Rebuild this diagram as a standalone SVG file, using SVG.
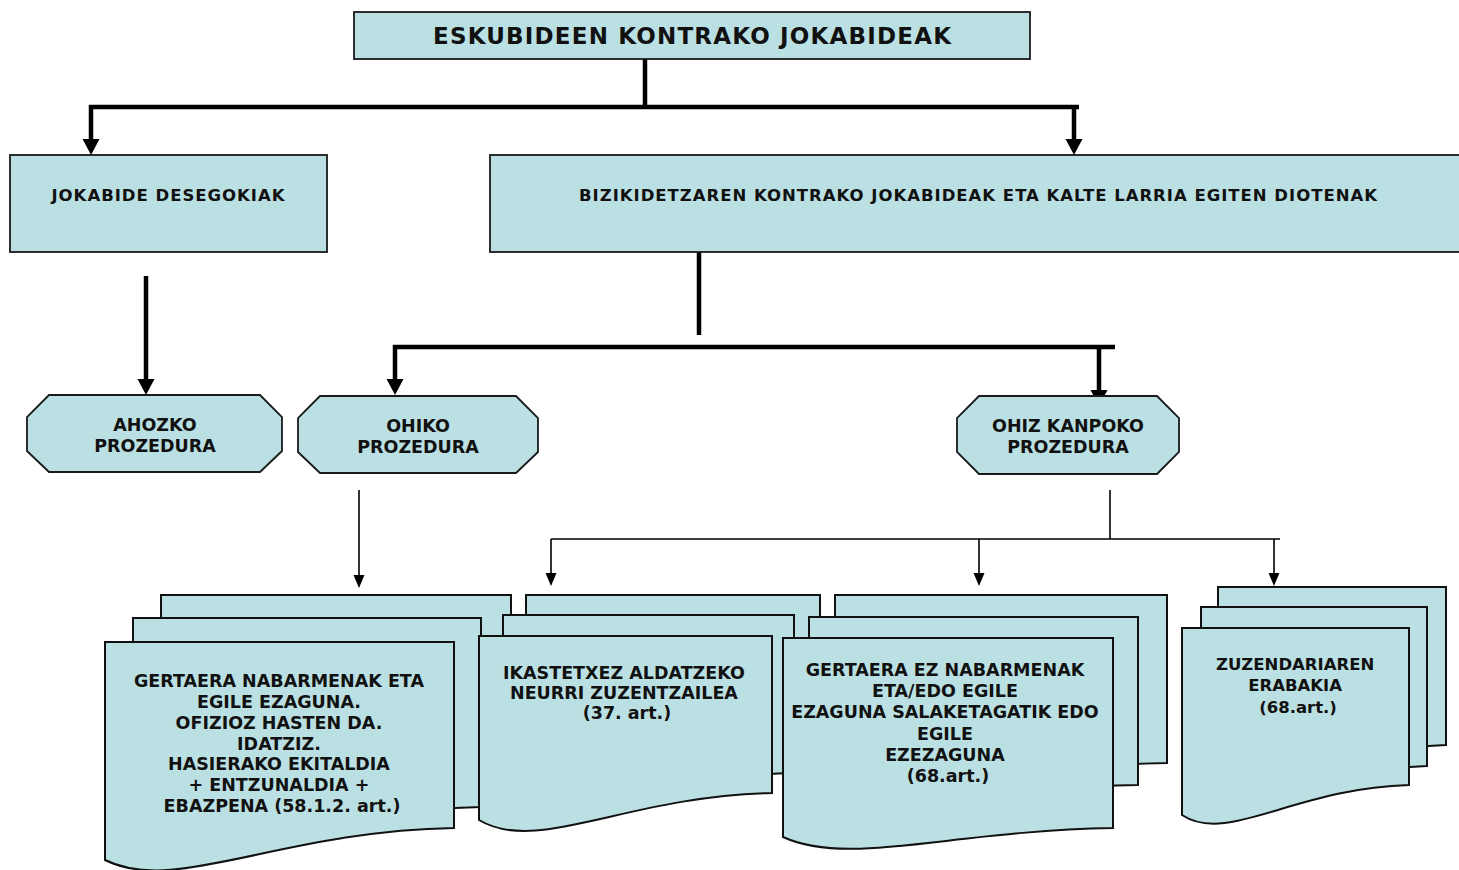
<svg xmlns="http://www.w3.org/2000/svg" width="1459" height="870" viewBox="0 0 1459 870">
<defs>
<style>
.box{fill:#BBE0E3;stroke:#1a1a1a;stroke-width:1.8}
.doc{fill:#BBE0E3;stroke:#111;stroke-width:2}
.t{font-family:"DejaVu Sans","Verdana",sans-serif;font-weight:bold;fill:#111;text-anchor:middle}
.thick{stroke:#000;stroke-width:4.5;fill:none}
.thin{stroke:#000;stroke-width:1.6;fill:none}
</style>
<marker id="ah" markerUnits="userSpaceOnUse" markerWidth="18" markerHeight="18" refX="0" refY="8.5" orient="auto">
<path d="M0,0 L16,8.5 L0,17 z" fill="#000"/>
</marker>
<marker id="ahs" markerUnits="userSpaceOnUse" markerWidth="14" markerHeight="12" refX="0" refY="5.5" orient="auto">
<path d="M0,0 L13,5.5 L0,11 z" fill="#000"/>
</marker>
</defs>
<rect width="1459" height="870" fill="#fff"/>

<g id="connectors">
<line class="thick" x1="645" y1="59" x2="645" y2="107"/>
<line class="thick" x1="89" y1="107" x2="1079" y2="107" stroke-width="5"/>
<line class="thick" x1="91" y1="105" x2="91" y2="139" marker-end="url(#ah)"/>
<line class="thick" x1="1074" y1="105" x2="1074" y2="139" marker-end="url(#ah)"/>
<line class="thick" x1="146" y1="276" x2="146" y2="379" marker-end="url(#ah)"/>
<line class="thick" x1="699" y1="252" x2="699" y2="335"/>
<line class="thick" x1="393" y1="347" x2="1115" y2="347" stroke-width="5"/>
<line class="thick" x1="395" y1="345" x2="395" y2="379" marker-end="url(#ah)"/>
<line class="thick" x1="1099" y1="345" x2="1099" y2="390" marker-end="url(#ah)"/>
<line class="thin" x1="359" y1="490" x2="359" y2="575" marker-end="url(#ahs)"/>
<line class="thin" x1="1110" y1="490" x2="1110" y2="539"/>
<line class="thin" x1="551" y1="539" x2="1280" y2="539"/>
<line class="thin" x1="551" y1="539" x2="551" y2="573" marker-end="url(#ahs)"/>
<line class="thin" x1="979" y1="539" x2="979" y2="573" marker-end="url(#ahs)"/>
<line class="thin" x1="1274" y1="539" x2="1274" y2="573" marker-end="url(#ahs)"/>
</g>

<g id="n-title">
<rect class="box" x="354" y="12" width="676" height="47"/>
<text class="t" x="692" y="44" font-size="23" textLength="518">ESKUBIDEEN KONTRAKO JOKABIDEAK</text>
</g>
<g id="n-jokabide">
<rect class="box" x="10" y="155" width="317" height="97"/>
<text class="t" x="168" y="201" font-size="16.5" textLength="233">JOKABIDE DESEGOKIAK</text>
</g>
<g id="n-bizikidetza">
<rect class="box" x="490" y="155" width="985" height="97"/>
<text class="t" x="978" y="201" font-size="16.5" textLength="798">BIZIKIDETZAREN KONTRAKO JOKABIDEAK ETA KALTE LARRIA EGITEN DIOTENAK</text>
</g>

<g id="n-ahozko">
<polygon class="box" points="49,395 260,395 282,417 282,451 260,472 49,472 27,451 27,417"/>
<text class="t" font-size="17.5"><tspan x="155" y="431">AHOZKO</tspan><tspan x="155" y="452">PROZEDURA</tspan></text>
</g>
<g id="n-ohiko">
<polygon class="box" points="320,396 516,396 538,418 538,452 516,473 320,473 298,452 298,418"/>
<text class="t" font-size="17.5"><tspan x="418" y="432">OHIKO</tspan><tspan x="418" y="453">PROZEDURA</tspan></text>
</g>
<g id="n-ohizkanpoko">
<polygon class="box" points="979,396 1157,396 1179,418 1179,452 1157,474 979,474 957,452 957,418"/>
<text class="t" font-size="17.5"><tspan x="1068" y="432">OHIZ KANPOKO</tspan><tspan x="1068" y="453">PROZEDURA</tspan></text>
</g>

<g id="n-doc1">
<path class="doc" d="M161,595 H511 V785 C336,788 231,852 161,817 Z"/>
<path class="doc" d="M133,618 H481 V807 C307,810 203,874 133,839 Z"/>
<path class="doc" d="M105,642 H454 V828 C279.5,831 175,895 105,860 Z"/>
<text class="t" font-size="17.5">
<tspan x="282" y="687">GERTAERA NABARMENAK ETA</tspan>
<tspan x="282" y="708">EGILE EZAGUNA.</tspan>
<tspan x="282" y="729">OFIZIOZ HASTEN DA.</tspan>
<tspan x="282" y="750">IDATZIZ.</tspan>
<tspan x="282" y="770">HASIERAKO EKITALDIA</tspan>
<tspan x="282" y="791">+ ENTZUNALDIA +</tspan>
<tspan x="282" y="812">EBAZPENA (58.1.2. art.)</tspan>
</text>
</g>

<g id="n-doc2">
<path class="doc" d="M526,595 H820 V752 C673,755 585,814 526,779 Z"/>
<path class="doc" d="M503,615 H794 V773 C648.5,776 561,835 503,800 Z"/>
<path class="doc" d="M479,636 H772 V793 C625.5,796 537.6,855 479,820 Z"/>
<text class="t" font-size="17.5">
<tspan x="627" y="679">IKASTETXEZ ALDATZEKO</tspan>
<tspan x="627" y="699">NEURRI ZUZENTZAILEA</tspan>
<tspan x="627" y="719">(37. art.)</tspan>
</text>
</g>

<g id="n-doc3">
<path class="doc" d="M835,595 H1167 V763 C1001,766 901,802 835,772 Z"/>
<path class="doc" d="M809,617 H1138 V785 C973.5,788 875,824 809,794 Z"/>
<path class="doc" d="M783,638 H1113 V828 C948,831 849,867 783,837 Z"/>
<text class="t" font-size="17.5">
<tspan x="948" y="676">GERTAERA EZ NABARMENAK</tspan>
<tspan x="948" y="697">ETA/EDO EGILE</tspan>
<tspan x="948" y="718">EZAGUNA SALAKETAGATIK EDO</tspan>
<tspan x="948" y="740">EGILE</tspan>
<tspan x="948" y="761">EZEZAGUNA</tspan>
<tspan x="948" y="782">(68.art.)</tspan>
</text>
</g>

<g id="n-doc4">
<path class="doc" d="M1218,587 H1446 V745 C1332,748 1264,805 1218,775 Z"/>
<path class="doc" d="M1201,607 H1427 V766 C1314,769 1246,826 1201,796 Z"/>
<path class="doc" d="M1182,628 H1409 V785 C1295.5,788 1227,845 1182,815 Z"/>
<text class="t" font-size="16.5">
<tspan x="1298" y="670">ZUZENDARIAREN</tspan>
<tspan x="1298" y="691">ERABAKIA</tspan>
<tspan x="1298" y="713">(68.art.)</tspan>
</text>
</g>
</svg>
